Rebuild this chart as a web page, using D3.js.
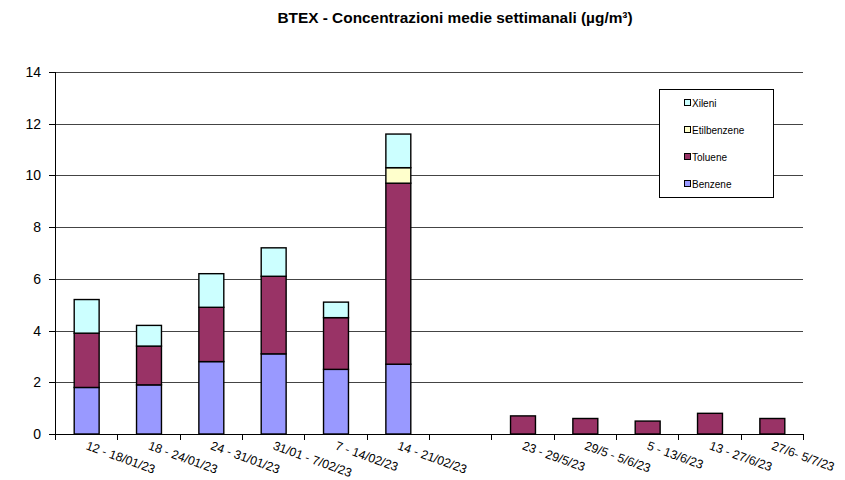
<!DOCTYPE html>
<html>
<head>
<meta charset="utf-8">
<script src="https://cdn.jsdelivr.net/npm/d3@7.9.0/dist/d3.min.js"></script>
<style>
  body { margin: 0; background: #fff; }
  svg { font-family: Arial, "Liberation Sans", sans-serif; }
</style>
</head>
<body>
<svg id="chart" width="845" height="480"></svg>
<script>
// Weekly periods (the blank one is the gap between winter and summer)
const categories  = ["12 - 18/01/23", "18 - 24/01/23", "24 - 31/01/23", "31/01 - 7/02/23",
                     "7 - 14/02/23", "14 - 21/02/23", "", "23 - 29/5/23", "29/5 - 5/6/23",
                     "5 - 13/6/23", "13 - 27/6/23", "27/6- 5/7/23"];
const benzene     = [1.8, 1.9, 2.8, 3.1, 2.5, 2.7, 0, 0, 0, 0, 0, 0];
const toluene     = [2.1, 1.5, 2.1, 3.0, 2.0, 7.0, 0, 0.7, 0.6, 0.5, 0.8, 0.6];
const etilbenzene = [0, 0, 0, 0, 0, 0.6, 0, 0, 0, 0, 0, 0];
const xileni      = [1.3, 0.8, 1.3, 1.1, 0.6, 1.3, 0, 0, 0, 0, 0, 0];
const yTicks      = [0, 2, 4, 6, 8, 10, 12, 14];

const series = [
  { key: "Benzene",     values: benzene,     color: "#9999ff" },
  { key: "Toluene",     values: toluene,     color: "#993366" },
  { key: "Etilbenzene", values: etilbenzene, color: "#ffffcc" },
  { key: "Xileni",      values: xileni,      color: "#ccffff" }
];

const svg = d3.select("#chart");
const mLeft = 55, mRight = 803, mTop = 72, mBottom = 434;

const x = d3.scaleBand().domain(categories).range([mLeft, mRight])
  .paddingInner(0.6).paddingOuter(0.3);
const y = d3.scaleLinear().domain([0, 14]).range([mBottom, mTop]);

// table for stacking
const table = categories.map((c, i) => {
  const row = { cat: c };
  series.forEach(s => row[s.key] = s.values[i]);
  return row;
});
const stacked = d3.stack().keys(series.map(s => s.key))(table);

// title
svg.append("text")
  .attr("x", 455).attr("y", 23)
  .attr("text-anchor", "middle")
  .attr("font-size", 15.4).attr("font-weight", "bold")
  .text("BTEX - Concentrazioni medie settimanali (µg/m³)");

// gridlines
svg.append("g").selectAll("line").data(yTicks.filter(d => d > 0)).join("line")
  .attr("x1", mLeft).attr("x2", mRight)
  .attr("y1", d => Math.round(y(d)) + 0.5).attr("y2", d => Math.round(y(d)) + 0.5)
  .attr("stroke", "#444").attr("stroke-width", 1);

// bars
series.forEach((s, si) => {
  svg.append("g").selectAll("rect")
    .data(stacked[si].filter(d => d[1] - d[0] > 0))
    .join("rect")
    .attr("x", d => x(d.data.cat) + 0.5)
    .attr("width", x.bandwidth())
    .attr("y", d => y(d[1]))
    .attr("height", d => y(d[0]) - y(d[1]))
    .attr("fill", s.color)
    .attr("stroke", "#000").attr("stroke-width", 1.4);
});

// y axis
const yAxis = svg.append("g");
yAxis.append("line")
  .attr("x1", mLeft + 0.5).attr("x2", mLeft + 0.5)
  .attr("y1", mTop).attr("y2", mBottom)
  .attr("stroke", "#000");
yAxis.selectAll(".tick").data(yTicks).join("line")
  .attr("x1", mLeft - 6).attr("x2", mLeft)
  .attr("y1", d => Math.round(y(d)) + 0.5).attr("y2", d => Math.round(y(d)) + 0.5)
  .attr("stroke", "#000");
yAxis.selectAll("text").data(yTicks).join("text")
  .attr("x", mLeft - 14).attr("y", d => y(d) + 5)
  .attr("text-anchor", "end").attr("font-size", 14)
  .text(d => d);

// x axis
const xAxis = svg.append("g");
xAxis.append("line")
  .attr("x1", mLeft).attr("x2", mRight)
  .attr("y1", mBottom + 0.5).attr("y2", mBottom + 0.5)
  .attr("stroke", "#000");
const half = x.step() * x.paddingInner() / 2;
const bounds = categories.map(c => x(c) - half).concat([mRight]);
xAxis.selectAll(".tick").data(bounds).join("line")
  .attr("x1", d => Math.round(d) + 0.5).attr("x2", d => Math.round(d) + 0.5)
  .attr("y1", mBottom).attr("y2", mBottom + 6)
  .attr("stroke", "#000");
xAxis.selectAll("text").data(categories).join("text")
  .attr("transform", c => `translate(${x(c) + x.bandwidth() / 2 - 1},${mBottom + 15}) rotate(20)`)
  .attr("font-size", 12.3)
  .text(c => c);

// legend
const lg = svg.append("g").attr("transform", "translate(659,89)");
lg.append("rect").attr("x", 0.5).attr("y", 0.5).attr("width", 114).attr("height", 108)
  .attr("fill", "#fff").attr("stroke", "#000");
series.slice().reverse().forEach((s, i) => {
  const gy = 14 + i * 27;
  lg.append("rect").attr("x", 25.5).attr("y", gy - 3.5).attr("width", 6).attr("height", 6)
    .attr("fill", s.color).attr("stroke", "#000");
  lg.append("text").attr("x", 33).attr("y", gy + 3.5)
    .attr("font-size", 10).text(s.key);
});
</script>
</body>
</html>
